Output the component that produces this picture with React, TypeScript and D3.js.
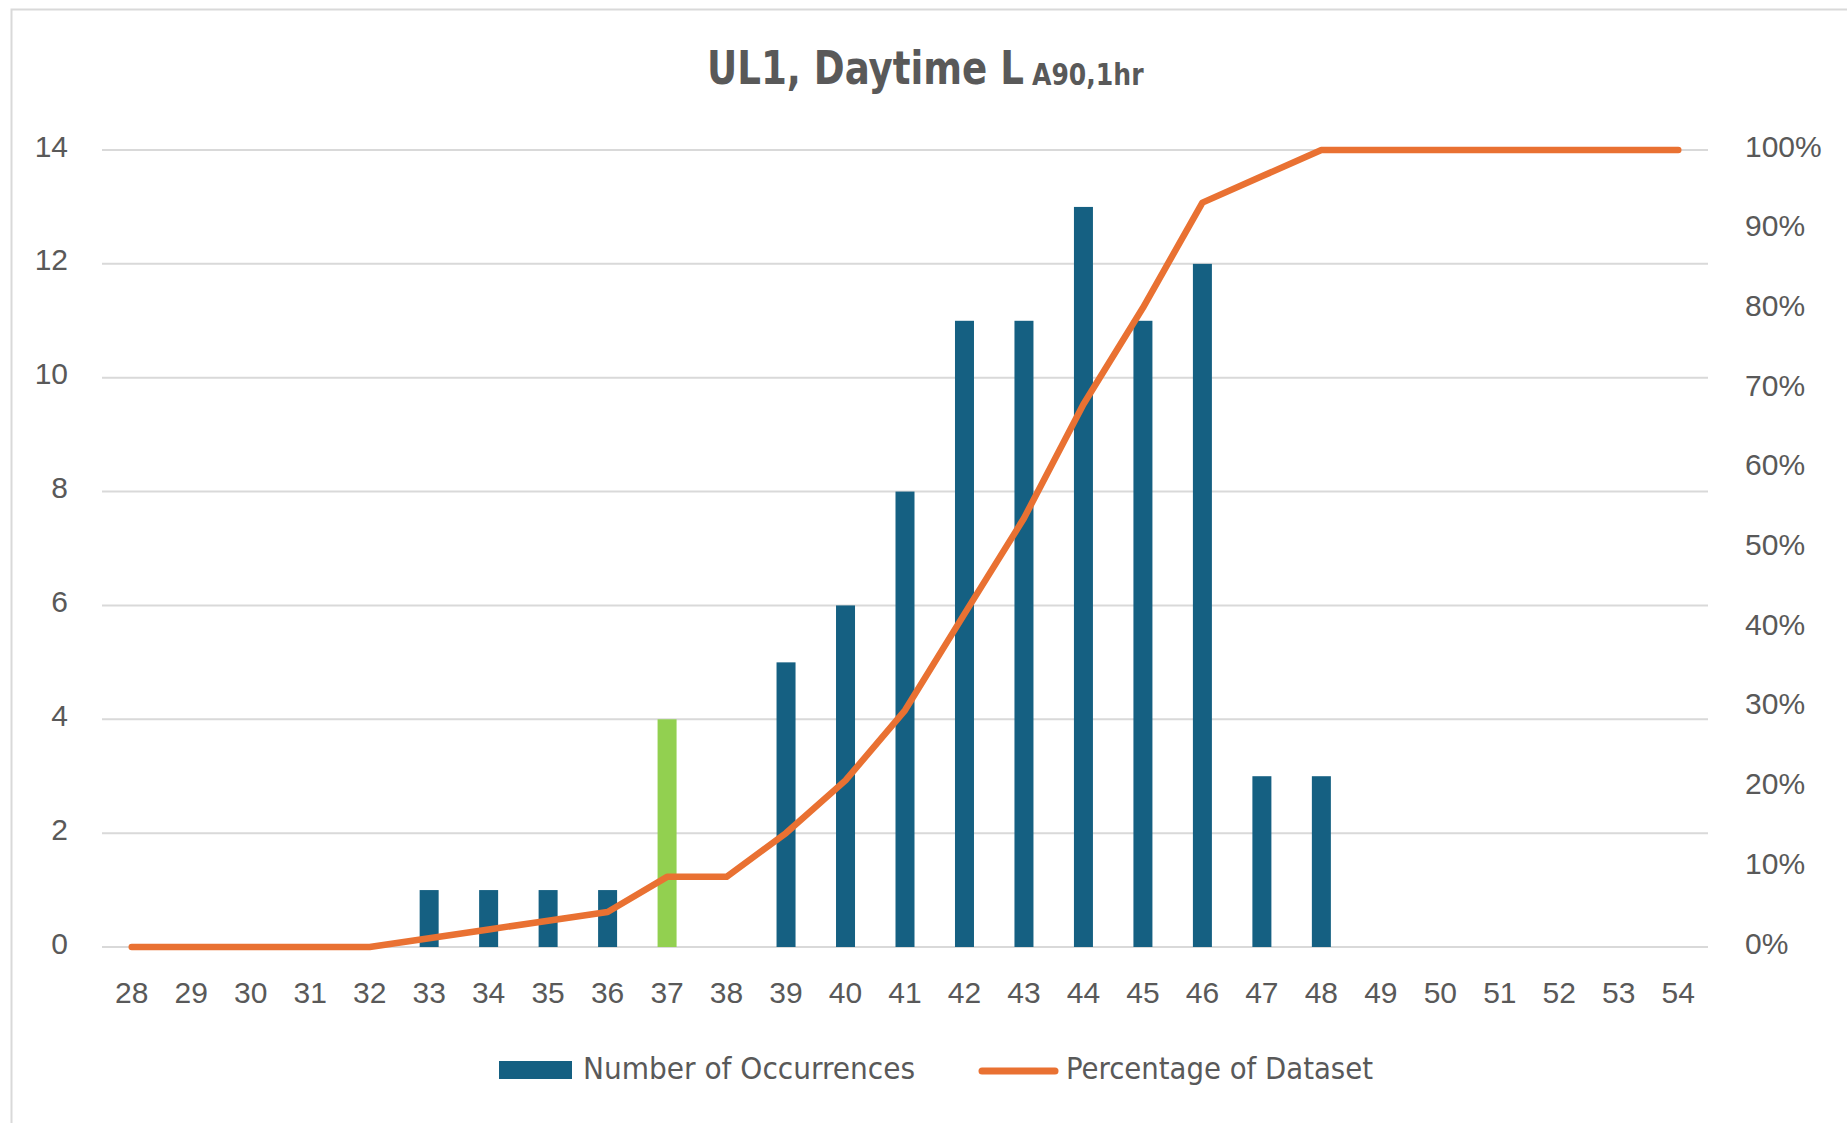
import React from "react";
import * as d3 from "d3";

const categories = [28,29,30,31,32,33,34,35,36,37,38,39,40,41,42,43,44,45,46,47,48,49,50,51,52,53,54];
const occurrences = [0,0,0,0,0,1,1,1,1,4,0,5,6,8,11,11,13,11,12,3,3,0,0,0,0,0,0];
const percentage = [0,0,0,0,0,1.1,2.2,3.3,4.4,8.8,8.8,14.3,20.9,29.7,41.8,53.8,68.1,80.2,93.4,96.7,100,100,100,100,100,100,100];
const highlighted = [37];
const leftTicks = [0,2,4,6,8,10,12,14];
const rightTicks = [0,10,20,30,40,50,60,70,80,90,100];

const W = 1847, H = 1123;
const plot = { left: 102, right: 1708, top: 150, bottom: 947 };
const BLUE = "#156082", GREEN = "#92D050", ORANGE = "#E97132", TEXT = "#595959", GRID = "#D9D9D9";
const NARROW = "'Liberation Sans Narrow', 'DejaVu Sans Condensed', sans-serif";
const SANS = "'Liberation Sans', Arial, sans-serif";

export default function App() {
  const x = d3.scaleBand<number>().domain(categories).range([plot.left, plot.right]).padding(0);
  const yL = d3.scaleLinear().domain([0, 14]).range([plot.bottom, plot.top]);
  const yR = d3.scaleLinear().domain([0, 100]).range([plot.bottom, plot.top]);
  const barW = 19;
  const cx = (c: number) => (x(c) as number) + x.bandwidth() / 2;
  const line = d3.line<number>().x((_, i) => cx(categories[i])).y((d) => yR(d));

  return (
    <div style={{ position: "fixed", left: 0, top: 0, width: W, height: H, background: "#fff" }}>
      <svg width={W} height={H} style={{ display: "block" }}>
        <rect x={0} y={0} width={W} height={H} fill="#fff" />
        <rect x={11.5} y={9.5} width={W + 20} height={H + 20} fill="none" stroke="#D9D9D9" strokeWidth={2} />
        <text transform="translate(707,84) scale(0.88,1)" fill={TEXT} fontFamily={NARROW} fontWeight="bold" fontSize={47}>UL1, Daytime L</text>
        <text transform="translate(1032,85) scale(0.93,1)" fill={TEXT} fontFamily={NARROW} fontWeight="bold" fontSize={30}>A90,1hr</text>
        {leftTicks.map((t) => (
          <g key={"g" + t}>
            <line x1={plot.left} x2={plot.right} y1={yL(t)} y2={yL(t)} stroke={GRID} strokeWidth={2} />
            <text x={68} y={yL(t) - 4} dy="0.35em" textAnchor="end" fill={TEXT} fontFamily={SANS} fontSize={30}>{t}</text>
          </g>
        ))}
        {rightTicks.map((t) => (
          <text key={"r" + t} x={1745} y={yR(t) - 4} dy="0.35em" textAnchor="start" fill={TEXT} fontFamily={SANS} fontSize={30}>{t}%</text>
        ))}
        {categories.map((c, i) => (
          occurrences[i] > 0 ? (
            <rect key={"b" + c} x={cx(c) - barW / 2} y={yL(occurrences[i])} width={barW} height={yL(0) - yL(occurrences[i])}
              fill={highlighted.includes(c) ? GREEN : BLUE} />
          ) : null
        ))}
        <path d={line(percentage) || ""} fill="none" stroke={ORANGE} strokeWidth={6.5} strokeLinejoin="round" strokeLinecap="round" />
        {categories.map((c) => (
          <text key={"x" + c} x={cx(c)} y={992} dy="0.35em" textAnchor="middle" fill={TEXT} fontFamily={SANS} fontSize={30}>{c}</text>
        ))}
        <rect x={499} y={1061} width={73} height={18} fill={BLUE} />
        <text x={583} y={1079} fill={TEXT} fontFamily={NARROW} fontSize={30} textLength={332} lengthAdjust="spacingAndGlyphs">Number of Occurrences</text>
        <line x1={982} x2={1055} y1={1071} y2={1071} stroke={ORANGE} strokeWidth={7} strokeLinecap="round" />
        <text x={1066} y={1079} fill={TEXT} fontFamily={NARROW} fontSize={30} textLength={307} lengthAdjust="spacingAndGlyphs">Percentage of Dataset</text>
      </svg>
    </div>
  );
}
